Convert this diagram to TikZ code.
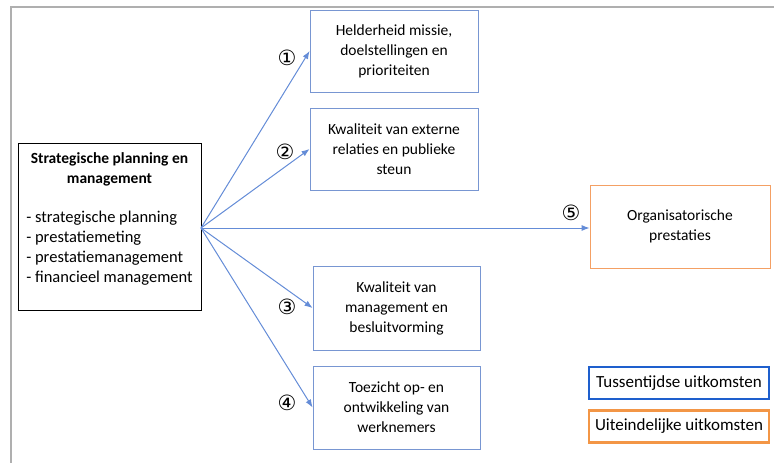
\documentclass[tikz,border=0pt]{standalone}
\usepackage{fontspec}
\setmainfont{Carlito}
\newfontfamily\circfont{DejaVu Sans}
\usepackage{tikz}
\usetikzlibrary{arrows.meta}

\definecolor{boxblue}{RGB}{120,150,210}
\definecolor{arrowblue}{RGB}{100,140,215}
\definecolor{boxorange}{RGB}{244,160,100}
\definecolor{legblue}{RGB}{30,95,205}
\definecolor{legorange}{RGB}{243,150,70}
\definecolor{framegray}{RGB}{175,175,175}

\begin{document}
\begin{tikzpicture}[x=1pt,y=-1pt,
    font=\fontsize{15.5}{20}\selectfont,
    spmbox/.style={draw,thick,minimum width=183pt,minimum height=167pt,align=center,inner sep=0pt},
    midbox/.style={draw=boxblue,thick,minimum width=168pt,minimum height=82pt,align=center,inner sep=0pt},
    endbox/.style={draw=boxorange,thick,minimum width=180pt,minimum height=83pt,align=center},
    legbox/.style={line width=2.6pt,minimum width=180pt,minimum height=32pt,font=\fontsize{17}{20}\selectfont},
    num/.style={font=\circfont\fontsize{21}{21}\selectfont,inner sep=0pt},
    link/.style={draw=arrowblue,line width=1pt,-{Latex[length=8pt,width=6pt]}}]
    \useasboundingbox (0,0) rectangle (774,463);
    \draw[framegray,line width=2.5pt] (11,463) -- (11,7) -- (774,7);

    \node [spmbox] (spm) at (109.5,226.5) {%
        \begin{tabular}{@{}c@{}}\textbf{Strategische planning en}\\ \textbf{management}\end{tabular}\\[18pt]
        {\fontsize{16.5}{20}\selectfont\begin{tabular}{@{}l@{}}- strategische planning\\ - prestatiemeting\\ - prestatiemanagement\\ - financieel management\end{tabular}}\\[14pt]\mbox{}};

    \node [midbox] (missie) at (394,51) {Helderheid missie,\\ doelstellingen en\\ prioriteiten};
    \node [midbox] (relaties) at (394,149) {Kwaliteit van externe\\ relaties en publieke\\ steun};
    \node [midbox,minimum width=167pt,minimum height=84pt] (besluit) at (396.5,308) {Kwaliteit van\\ management en\\ besluitvorming};
    \node [midbox,minimum width=167pt,minimum height=83pt] (toezicht) at (396.5,407.5) {Toezicht op- en\\ ontwikkeling van\\ werknemers};
    \node [endbox] (prestaties) at (680,226.5) {Organisatorische\\ prestaties};

    \node [legbox,draw=legblue] (tussen) at (679,383) {Tussentijdse uitkomsten};
    \node [legbox,draw=legorange] (uiteind) at (679,426.5) {Uiteindelijke uitkomsten};

    % arrows from the planning box
    \coordinate (hub) at (201,228);
    \draw [link] (hub) -- (missie.west);
    \draw [link] (hub) -- (relaties.west);
    \draw [link] (hub) -- (prestaties.west |- hub);
    \draw [link] (hub) -- (besluit.west);
    \draw [link] (hub) -- (toezicht.west);

    % numbers
    \node [num] (n1) at (287,58) {①};
    \node [num] (n2) at (285,152) {②};
    \node [num] (n3) at (287,307) {③};
    \node [num] (n4) at (287,403) {④};
    \node [num] (n5) at (571,213) {⑤};
\end{tikzpicture}
\end{document}
